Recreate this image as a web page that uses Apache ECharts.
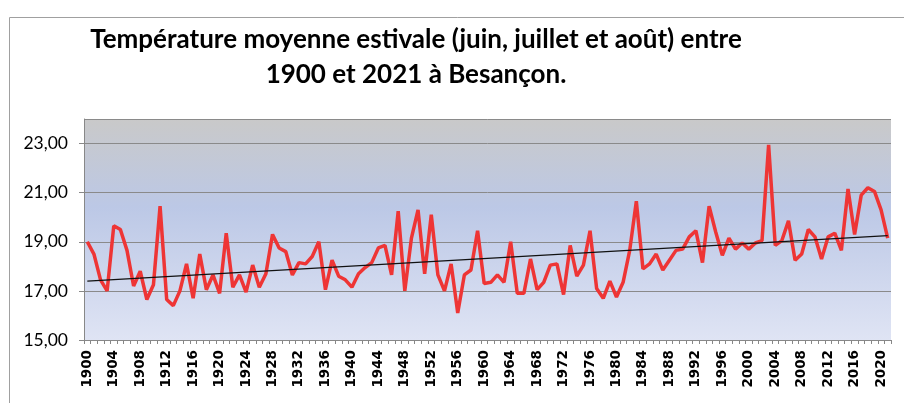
<!DOCTYPE html>
<html><head><meta charset="utf-8">
<script src="https://cdn.jsdelivr.net/npm/echarts@6/dist/echarts.min.js"></script>
<style>html,body{margin:0;padding:0;background:#fff}#c{width:904px;height:403px}</style>
</head><body><div id="c"></div>
<script>
const titleLines = ['Température moyenne estivale (juin, juillet et août) entre', '1900 et 2021 à Besançon.'];
const startYear = 1900;
const temps = [
  19.0, 18.5, 17.45, 17.0, 19.65, 19.5, 18.65, 17.2, 17.8, 16.65,
  17.25, 20.45, 16.65, 16.4, 17.0, 18.1, 16.7, 18.5, 17.05, 17.65,
  16.9, 19.35, 17.15, 17.65, 16.95, 18.05, 17.15, 17.7, 19.3, 18.75,
  18.6, 17.65, 18.15, 18.1, 18.4, 19.0, 17.05, 18.25, 17.6, 17.45,
  17.15, 17.7, 17.95, 18.15, 18.75, 18.85, 17.65, 20.25, 17.0, 19.15,
  20.3, 17.7, 20.1, 17.65, 17.0, 18.1, 16.1, 17.65, 17.85, 19.45,
  17.3, 17.35, 17.65, 17.35, 19.0, 16.9, 16.9, 18.3, 17.05, 17.35,
  18.05, 18.1, 16.85, 18.85, 17.6, 18.05, 19.45, 17.1, 16.7, 17.4,
  16.75, 17.35, 18.65, 20.65, 17.9, 18.1, 18.5, 17.85, 18.25, 18.65,
  18.7, 19.2, 19.45, 18.15, 20.45, 19.4, 18.45, 19.15, 18.7, 18.95,
  18.7, 18.95, 19.05, 22.95, 18.85, 19.05, 19.85, 18.25, 18.5, 19.5,
  19.2, 18.3, 19.2, 19.35, 18.65, 21.15, 19.3, 20.9, 21.2, 21.05,
  20.3, 19.15
];
const years = temps.map((_, i) => String(startYear + i));
const trendStart = 17.40;
const trendEnd = 19.25;
const yMin = 15, yMax = 24, yStep = 2;

const chart = echarts.init(document.getElementById('c'), null, {renderer: 'canvas'});
chart.setOption({
  animation: false,
  backgroundColor: '#ffffff',
  graphic: [
    {type: 'rect', shape: {x: 9.5, y: 17.5, width: 900, height: 400}, style: {fill: 'none', stroke: '#a0a0a0', lineWidth: 1}, z: -10},
    {type: 'text', style: {text: titleLines[0], x: 416, y: 40, align: 'center', verticalAlign: 'middle', font: 'bold 26px Lato', fill: '#000'}},
    {type: 'text', style: {text: titleLines[1], x: 416, y: 75, align: 'center', verticalAlign: 'middle', font: 'bold 26px Lato', fill: '#000'}}
  ],
  grid: {
    left: 84, right: 13, top: 119, bottom: 63, show: true, borderWidth: 0,
    backgroundColor: {type: 'linear', x: 0, y: 0, x2: 0, y2: 1, colorStops: [
      {offset: 0, color: '#c9c9c9'}, {offset: 0.4, color: '#bcc8e6'}, {offset: 1, color: '#dfe4f4'}
    ]}
  },
  xAxis: {
    type: 'category', data: years, boundaryGap: true,
    axisLine: {lineStyle: {color: '#888', width: 1}},
    axisTick: {show: true, interval: 0, length: 4, lineStyle: {color: '#888'}},
    axisLabel: {interval: 3, rotate: 90, color: '#000', fontFamily: 'DejaVu Sans', fontSize: 13.5, fontWeight: 'bold', margin: 10}
  },
  yAxis: {
    type: 'value', min: yMin, max: yMax, interval: yStep,
    axisLine: {show: true, lineStyle: {color: '#888'}},
    axisTick: {show: true, length: 5, lineStyle: {color: '#888'}},
    axisLabel: {showMaxLabel: false, color: '#000', fontFamily: 'Lato', fontSize: 17.5, margin: 16,
      formatter: v => v.toFixed(2).replace('.', ',')},
    splitLine: {lineStyle: {color: '#8a8a8a', width: 1}}
  },
  series: [
    {type: 'line', data: temps, symbol: 'none', lineStyle: {color: '#ee3535', width: 3.5}, z: 2},
    {type: 'line', data: [[years[0], trendStart], [years[years.length - 1], trendEnd]], symbol: 'none',
      lineStyle: {color: '#111', width: 1.2}, z: 3}
  ]
});
</script></body></html>
